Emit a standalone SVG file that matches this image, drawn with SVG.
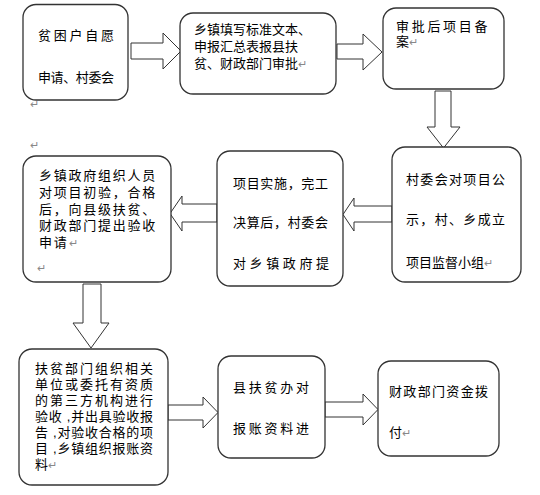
<svg xmlns="http://www.w3.org/2000/svg" width="540" height="495" viewBox="0 0 540 495">
<style>
.box{fill:#fff;stroke:#333;stroke-width:1.3}
.arr{fill:#fff;stroke:#333;stroke-width:1}
text{font-family:"Liberation Sans","Noto Sans CJK SC",sans-serif;font-size:13px;fill:#000}
.pm{fill:#888;font-size:11px}
</style>
<rect width="540" height="495" fill="#fff"/>
<g id="connectors">
<path class="arr" d="M131,43 H163 V33 L181,51 L163,69 V59 H131 Z"/>
<path class="arr" d="M337,44 H363 V34 L382,52 L363,70 V59 H337 Z"/>
<path class="arr" d="M435,91 V127 H427 L443.5,148 L460,127 H451 V91 Z"/>
<path class="arr" d="M392,206 H354 V198 L343,214.5 L354,231 V222 H392 Z"/>
<path class="arr" d="M217,204 H182 V196 L170,213.5 L182,231 V222 H217 Z"/>
<path class="arr" d="M83,284 V323 H73 L91,348 L109,323 H101 V284 Z"/>
<path class="arr" d="M168,405 H203 V397 L218,412.5 L203,428 V420 H168 Z"/>
<path class="arr" d="M325,402 H363 V394 L378,409.5 L363,425 V417 H325 Z"/>
</g>
<g id="marks">
<text class="pm" x="30" y="108">↵</text>
<text class="pm" x="30" y="149">↵</text>
</g>
<g id="n1">
<rect class="box" x="23" y="4.5" width="105" height="95.5" rx="13"/>
<text x="38" y="40" textLength="76" lengthAdjust="spacing">贫困户自愿</text>
<text x="38" y="82" textLength="76" lengthAdjust="spacing">申请、村委会</text>
</g>
<g id="n2">
<rect class="box" x="180" y="13" width="156" height="81" rx="13"/>
<text><tspan x="194" y="34">乡镇填写标准文本、</tspan><tspan x="194" y="51">申报汇总表报县扶</tspan><tspan x="194" y="68">贫、财政部门审批</tspan><tspan class="pm">↵</tspan></text>
</g>
<g id="n3">
<rect class="box" x="383" y="8" width="121" height="81" rx="13"/>
<text><tspan x="396" y="31" letter-spacing="2.7">审批后项目备</tspan><tspan x="396" y="46">案</tspan><tspan class="pm">↵</tspan></text>
</g>
<g id="n4">
<rect class="box" x="23" y="156" width="148" height="126" rx="13"/>
<text letter-spacing="1.75"><tspan x="39" y="180">乡镇政府组织人员</tspan><tspan x="39" y="197">对项目初验，合格</tspan><tspan x="39" y="214">后，向县级扶贫、</tspan><tspan x="39" y="230">财政部门提出验收</tspan><tspan x="39" y="247">申请</tspan><tspan class="pm">↵</tspan></text>
<text class="pm" x="37" y="272">↵</text>
</g>
<g id="n5">
<rect class="box" x="217" y="151" width="126" height="135" rx="13"/>
<text x="233" y="188" textLength="95" lengthAdjust="spacing">项目实施，完工</text>
<text x="233" y="227" textLength="95" lengthAdjust="spacing">决算后，村委会</text>
<text x="233" y="268" textLength="96" lengthAdjust="spacing">对乡镇政府提</text>
</g>
<g id="n6">
<rect class="box" x="392" y="147" width="129" height="135" rx="13"/>
<text x="406" y="184" textLength="99" lengthAdjust="spacing">村委会对项目公</text>
<text x="406" y="224" textLength="99" lengthAdjust="spacing">示，村、乡成立</text>
<text x="406" y="267">项目监督小组<tspan class="pm">↵</tspan></text>
</g>
<g id="n7">
<rect class="box" x="19" y="349" width="149" height="136" rx="13"/>
<text x="35" y="373" textLength="118" lengthAdjust="spacing">扶贫部门组织相关</text>
<text x="35" y="389" textLength="118" lengthAdjust="spacing">单位或委托有资质</text>
<text x="35" y="405" textLength="118" lengthAdjust="spacing">的第三方机构进行</text>
<text x="35" y="421" textLength="118" lengthAdjust="spacing">验收 ,并出具验收报</text>
<text x="35" y="437" textLength="118" lengthAdjust="spacing">告 ,对验收合格的项</text>
<text x="35" y="453" textLength="118" lengthAdjust="spacing">目 ,乡镇组织报账资</text>
<text x="35" y="469">料<tspan class="pm">↵</tspan></text>
</g>
<g id="n8">
<rect class="box" x="218" y="356" width="107" height="102" rx="13"/>
<text x="233" y="392" textLength="76" lengthAdjust="spacing">县扶贫办对</text>
<text x="233" y="433" textLength="76" lengthAdjust="spacing">报账资料进</text>
</g>
<g id="n9">
<rect class="box" x="378" y="361" width="121" height="95" rx="13"/>
<text x="389" y="396" textLength="99" lengthAdjust="spacing">财政部门资金拨</text>
<text x="389" y="437">付<tspan class="pm">↵</tspan></text>
</g>
</svg>
